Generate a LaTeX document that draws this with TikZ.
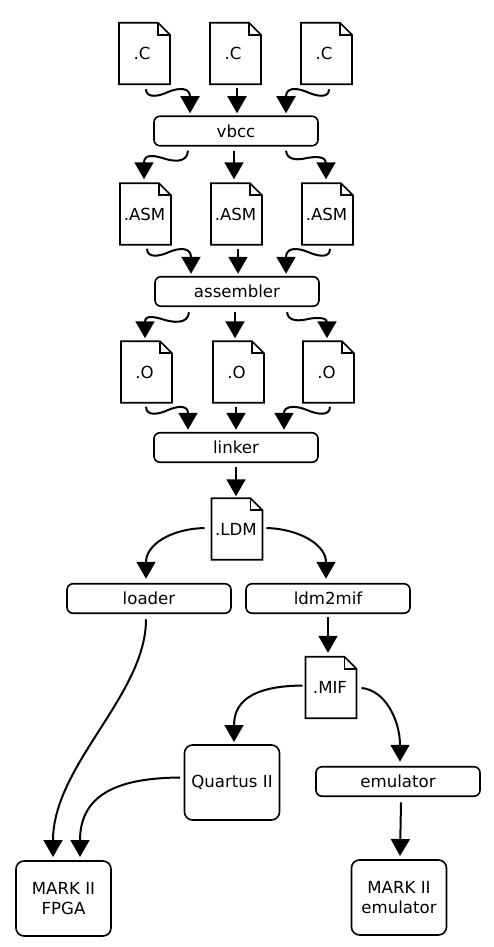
\documentclass[tikz,border=0pt]{standalone}
\usepackage{fontspec}
\setmainfont{DejaVu Sans}
\usetikzlibrary{arrows.meta}
\tikzset{
  x=1pt,y=-1pt,
  every node/.style={font=\fontsize{16.6}{20.5}\selectfont,inner sep=0pt,outer sep=0pt,align=center,text=black},
  docnode/.style={minimum width=51pt,minimum height=61.5pt},
  toolbox/.style={draw,line width=1.6pt,rounded corners=6pt,minimum width=164pt,minimum height=29.5pt},
  bigbox/.style={draw,line width=1.6pt,rounded corners=8pt,minimum width=95pt,minimum height=75pt},
  docline/.style={line width=1.6pt,line join=miter},
  flow/.style={line width=2pt,-{Triangle[length=17pt,width=19pt]}},
}
\newcommand{\docfile}[4]{%
  \node[docnode] (#1) at (#2,#3) {#4};
  \draw[docline] (#1.north west) -- ([xshift=-12pt]#1.north east) -- ([yshift=-12pt]#1.north east) -- (#1.south east) -- (#1.south west) -- cycle;
  \draw[docline] ([xshift=-12pt]#1.north east) -- ([xshift=-12pt,yshift=-12pt]#1.north east) -- ([yshift=-12pt]#1.north east);
}
\begin{document}
\begin{tikzpicture}
\useasboundingbox (0,0) rectangle (494,947);
% files
\docfile{c1}{144.5}{53.5}{\hspace*{-5pt}.C}
\docfile{c2}{235.5}{53.5}{\hspace*{-5pt}.C}
\docfile{c3}{326.5}{53.5}{\hspace*{-5pt}.C}
\docfile{a1}{145.5}{214}{\hspace*{-2pt}.ASM}
\docfile{a2}{236.5}{214}{\hspace*{-2pt}.ASM}
\docfile{a3}{327.5}{214}{\hspace*{-2pt}.ASM}
\docfile{o1}{146.5}{372}{\hspace*{-4pt}.O}
\docfile{o2}{238.5}{372}{\hspace*{-4pt}.O}
\docfile{o3}{328.5}{372}{\hspace*{-4pt}.O}
\docfile{ldm}{237}{529}{\hspace*{-2pt}.LDM}
\docfile{mif}{331}{687.5}{\hspace*{-2pt}.MIF}
% tools
\node[toolbox] (vbcc) at (236,131) {vbcc};
\node[toolbox] (asm) at (237,291.5) {assembler};
\node[toolbox] (link) at (236,447.5) {linker};
\node[toolbox] (load) at (149,598.5) {loader};
\node[toolbox] (l2m) at (328,598.5) {ldm2mif};
\node[toolbox] (emu) at (398,781.5) {emulator};
\node[bigbox] (quartus) at (232,782.5) {Quartus II};
\node[bigbox] (fpga) at (63.5,898.5) {MARK II\\FPGA};
\node[bigbox] (emubox) at (399,897.5) {MARK II\\emulator};
% C to vbcc
\draw[flow] ([shift={(1.5,5)}]c1.south) .. controls (146,99) and (160,96) .. (168,92) .. controls (180,87) and (190,88) .. ([shift={(-46,-3)}]vbcc.north);
\draw[flow] ([shift={(1.5,4)}]c2.south) -- ([shift={(1,-3)}]vbcc.north);
\draw[flow] ([shift={(2.5,5)}]c3.south) .. controls (329,99) and (316,96) .. (307,92) .. controls (295,87) and (286,88) .. ([shift={(50,-3)}]vbcc.north);
% vbcc to ASM
\draw[flow] ([shift={(-48,5)}]vbcc.south) .. controls (187,164) and (172,161) .. (164,158.5) .. controls (156,156) and (144,153) .. ([shift={(-1.5,-4)}]a1.north);
\draw[flow] ([shift={(-2,5)}]vbcc.south) -- ([shift={(-2.5,-4)}]a2.north);
\draw[flow] ([shift={(50,5)}]vbcc.south) .. controls (287,161) and (299,160) .. (307,158) .. controls (317,156) and (326,157) .. ([shift={(-1.5,-4)}]a3.north);
% ASM to assembler
\draw[flow] ([shift={(1.5,4)}]a1.south) .. controls (147,259) and (161,256) .. (169,252) .. controls (181,247) and (191,248) .. ([shift={(-46,-3)}]asm.north);
\draw[flow] ([shift={(1.5,4)}]a2.south) -- ([shift={(1,-3)}]asm.north);
\draw[flow] ([shift={(2.5,4)}]a3.south) .. controls (330,259) and (317,256) .. (308,252) .. controls (296,247) and (286,248) .. ([shift={(49,-3)}]asm.north);
% assembler to O
\draw[flow] ([shift={(-48,6)}]asm.south) .. controls (188,325) and (172,322) .. (165,320) .. controls (157,317.5) and (145,314) .. ([shift={(-1.5,-3)}]o1.north);
\draw[flow] ([shift={(-2,6)}]asm.south) -- ([shift={(-3.5,-3)}]o2.north);
\draw[flow] ([shift={(50,6)}]asm.south) .. controls (288,322) and (300,321) .. (308,319) .. controls (318,317) and (327,318) .. ([shift={(-1.5,-3)}]o3.north);
% O to linker
\draw[flow] ([shift={(-0.5,4)}]o1.south) .. controls (146,417) and (160,414) .. (168,410) .. controls (180,405) and (188,406) .. ([shift={(-48,-3)}]link.north);
\draw[flow] ([shift={(-2.5,4)}]o2.south) -- ([shift={(0,-3)}]link.north);
\draw[flow] ([shift={(1.5,4)}]o3.south) .. controls (330,417) and (316,414) .. (307,410) .. controls (295,405) and (284,406) .. ([shift={(48,-3)}]link.north);
% linker to LDM
\draw[flow] ([shift={(0,5)}]link.south) -- ([shift={(-1,-2)}]ldm.north);
% LDM to tools
\draw[flow] ([shift={(-7,-1)}]ldm.west) .. controls (170,529) and (146,545) .. ([shift={(-3,-5)}]load.north);
\draw[flow] ([shift={(4,-1)}]ldm.east) .. controls (300,529) and (326,545) .. ([shift={(-2,-5)}]l2m.north);
% ldm2mif to MIF
\draw[flow] ([shift={(0,4)}]l2m.south) -- ([shift={(-3,-4)}]mif.north);
% loader to FPGA
\draw[flow] ([shift={(-3,6)}]load.south) .. controls (146,695) and (53,765) .. ([shift={(-10.5,-4)}]fpga.north);
% MIF to Quartus / emulator
\draw[flow] ([shift={(-3,-2)}]mif.west) .. controls (260,686) and (234,697) .. ([shift={(2,-3)}]quartus.north);
\draw[flow] ([shift={(5,0.5)}]mif.east) .. controls (385,690) and (400,720) .. ([shift={(2,-5)}]emu.north);
% Quartus to FPGA
\draw[flow] ([shift={(-4.5,-5)}]quartus.west) .. controls (122,778) and (80,792) .. ([shift={(16.5,-4)}]fpga.north);
% emulator to box
\draw[flow] ([shift={(3,6)}]emu.south) -- ([shift={(1,-4)}]emubox.north);
\end{tikzpicture}
\end{document}
